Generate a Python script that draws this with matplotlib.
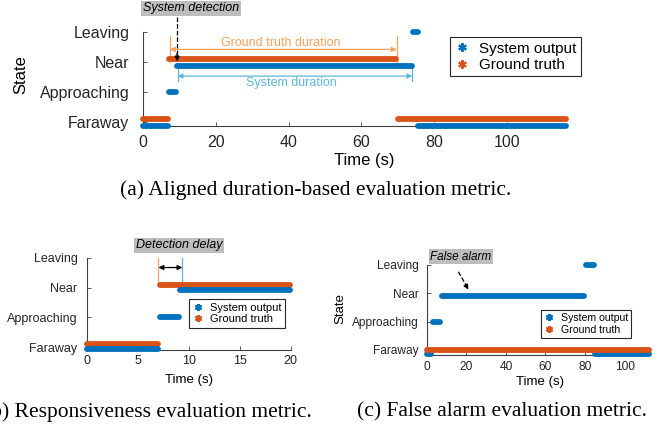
import matplotlib
matplotlib.use("Agg")
from matplotlib import pyplot as plt
from matplotlib.lines import Line2D

# state levels on the y axis
state_names = ["Faraway", "Approaching", "Near", "Leaving"]

# (a) aligned duration-based metric: segments (s)
a_sys_start = [0, 7.2, 9.2, 74.1, 75.7]
a_sys_end = [6.7, 9.0, 73.9, 75.5, 116.2]
a_sys_state = [1, 2, 3, 4, 1]
a_gt_start = [0, 7.1, 70.0]
a_gt_end = [6.7, 69.5, 116.2]
a_gt_state = [1, 3, 1]

# (b) responsiveness metric
b_sys_start = [0, 7.1, 9.1]
b_sys_end = [7.0, 9.05, 19.9]
b_sys_state = [1, 2, 3]
b_gt_start = [0, 7.1]
b_gt_end = [7.0, 19.9]
b_gt_state = [1, 3]

# (c) false alarm metric
c_sys_start = [0, 3.0, 7.6, 80.4, 85.2]
c_sys_end = [2.1, 6.8, 79.6, 84.6, 112.5]
c_sys_state = [1, 2, 3, 4, 1]
c_gt_start = [0]
c_gt_end = [112.5]
c_gt_state = [1]

BLUE = "#0072BD"
ORANGE = "#D95319"
LIGHT_ORANGE = "#F5A35A"
CYAN = "#5BB8D8"
AXIS = "#404040"
SANS = "Liberation Sans"
SERIF = "Liberation Serif"

W, H = 665, 429


def px(x, y):
    return x / W, 1 - y / H


def make_axes(fig, left, right, top, bottom):
    l, t = px(left, top)
    r, b = px(right, bottom)
    return fig.add_axes([l, b, r - l, t - b])


def draw_segments(ax, starts, ends, states, color, shift, lw):
    for t0, t1, s in zip(starts, ends, states):
        y = s + shift.get(s, 0.0)
        ax.plot([t0, t1], [y, y], color=color, lw=lw, solid_capstyle="round",
                clip_on=False, zorder=3)


def style_axes(ax, xlim, ylim, xticks, tick_fs, xpad, ypad):
    ax.set_xlim(*xlim)
    ax.set_ylim(*ylim)
    ax.set_xticks(xticks)
    ax.set_yticks([1, 2, 3, 4])
    ax.set_yticklabels(state_names)
    for side in ["top", "right"]:
        ax.spines[side].set_visible(False)
    for side in ["left", "bottom"]:
        ax.spines[side].set_color(AXIS)
        ax.spines[side].set_linewidth(0.8)
    ax.tick_params(direction="in", length=3, width=0.6, color=AXIS,
                   labelcolor="#262626", labelsize=tick_fs)
    ax.tick_params(axis="x", pad=xpad)
    ax.tick_params(axis="y", pad=ypad)
    for lab in ax.get_xticklabels() + ax.get_yticklabels():
        lab.set_family(SANS)
    ax.patch.set_alpha(0)


def add_legend(ax, fig, x, y, fs, ms):
    handles = [
        Line2D([], [], color=BLUE, marker=(6, 2, 0), ls="none", ms=ms, mew=1.6),
        Line2D([], [], color=ORANGE, marker=(6, 2, 0), ls="none", ms=ms, mew=1.6),
    ]
    leg = ax.legend(handles, ["System output", "Ground truth"],
                    loc="upper left", bbox_to_anchor=px(x, y),
                    bbox_transform=fig.transFigure, borderaxespad=0,
                    frameon=True, fancybox=False, framealpha=1,
                    edgecolor="#262626", handlelength=1.0, handletextpad=0.6,
                    borderpad=0.3, labelspacing=0.15,
                    prop={"family": SANS, "size": fs})
    leg.get_frame().set_linewidth(0.8)
    leg.set_zorder(5)


def double_arrow(ax, x0, x1, y, color, style="<|-|>"):
    ax.annotate("", xy=(x0, y), xytext=(x1, y),
                arrowprops=dict(arrowstyle=style, color=color, lw=0.9,
                                mutation_scale=7, shrinkA=0, shrinkB=0))


def gray_label(ax, x, y, text, fs):
    ax.text(x, y, text, ha="left", va="center", fontsize=fs, style="italic",
            family=SANS, clip_on=False,
            bbox=dict(facecolor="#BDBDBD", edgecolor="none", pad=1.2))


fig = plt.figure(figsize=(W / 100, H / 100), dpi=100)

# ---------------- (a) ----------------
ax_a = make_axes(fig, 143.3, 566.8, 32.3, 125.6)
draw_segments(ax_a, a_gt_start, a_gt_end, a_gt_state, ORANGE, {1: 0.1, 3: 0.1}, 4.2)
draw_segments(ax_a, a_sys_start, a_sys_end, a_sys_state, BLUE, {1: -0.11, 3: -0.11}, 4.2)
style_axes(ax_a, (0, 116.5), (0.89, 4), [0, 20, 40, 60, 80, 100], 11.5, 7, 10)

# annotations
gray_label(ax_a, -0.1, 4.8, "System detection", 9)
ax_a.plot([9.3, 9.3], [4.52, 3.25], color="black", lw=0.9, ls="--", clip_on=False)
ax_a.annotate("", xy=(9.3, 3.03), xytext=(9.3, 3.3),
              arrowprops=dict(arrowstyle="-|>", color="black", lw=0.9,
                              mutation_scale=7, shrinkA=0, shrinkB=0))
for xv in [7.35, 69.7]:
    ax_a.plot([xv, xv], [3.02, 3.88], color=LIGHT_ORANGE, lw=0.9)
double_arrow(ax_a, 7.35, 69.7, 3.43, LIGHT_ORANGE)
ax_a.text(37.8, 3.66, "Ground truth duration", color=LIGHT_ORANGE, fontsize=9,
          ha="center", va="center", family=SANS)
for xv in [9.45, 74.0]:
    ax_a.plot([xv, xv], [2.38, 2.93], color=CYAN, lw=0.9)
double_arrow(ax_a, 9.45, 74.0, 2.54, CYAN)
ax_a.text(40.8, 2.31, "System duration", color=CYAN, fontsize=9,
          ha="center", va="center", family=SANS)
add_legend(ax_a, fig, 450, 37, 11, 6)

fig.text(*px(364, 161), "Time (s)", ha="center", va="center", fontsize=12, family=SANS)
fig.text(*px(20.5, 75), "State", ha="center", va="center", rotation=90,
         fontsize=12, family=SANS)
fig.text(*px(316, 190), "(a) Aligned duration-based evaluation metric.",
         ha="center", va="center", fontsize=15.5, family=SERIF)

# ---------------- (b) ----------------
ax_b = make_axes(fig, 87.3, 290.7, 257.7, 349.5)
draw_segments(ax_b, b_gt_start, b_gt_end, b_gt_state, ORANGE, {1: 0.12, 3: 0.1}, 4.2)
draw_segments(ax_b, b_sys_start, b_sys_end, b_sys_state, BLUE, {1: -0.06, 3: -0.1}, 4.2)
style_axes(ax_b, (0, 20), (0.92, 4), [0, 5, 10, 15, 20], 9, 4.3, 7)

ax_b.plot([7.0, 7.0], [3.14, 3.98], color=LIGHT_ORANGE, lw=0.9)
ax_b.plot([9.35, 9.35], [2.86, 3.98], color=CYAN, lw=0.9)
double_arrow(ax_b, 7.0, 9.35, 3.67, "black")
gray_label(ax_b, 4.75, 4.41, "Detection delay", 9)
add_legend(ax_b, fig, 189.3, 299.3, 8, 5)

fig.text(*px(189, 380), "Time (s)", ha="center", va="center", fontsize=9.5, family=SANS)
fig.text(*px(-3, 303), "State", ha="center", va="center", rotation=90,
         fontsize=9.5, family=SANS)
fig.text(*px(312, 412), "(b) Responsiveness evaluation metric.",
         ha="right", va="center", fontsize=15.5, family=SERIF)

# ---------------- (c) ----------------
ax_c = make_axes(fig, 426.7, 650.4, 265, 354.7)
draw_segments(ax_c, c_sys_start, c_sys_end, c_sys_state, BLUE, {1: -0.15, 3: -0.1}, 4.2)
draw_segments(ax_c, c_gt_start, c_gt_end, c_gt_state, ORANGE, {}, 4.2)
style_axes(ax_c, (0, 113), (0.83, 4), [0, 20, 40, 60, 80, 100], 8.6, 4.8, 5.7)

ax_c.plot([16, 20.2], [3.76, 3.25], color="black", lw=0.9, ls="--")
ax_c.annotate("", xy=(21, 3.13), xytext=(20.0, 3.26),
              arrowprops=dict(arrowstyle="-|>", color="black", lw=0.9,
                              mutation_scale=7, shrinkA=0, shrinkB=0))
gray_label(ax_c, 1.9, 4.30, "False alarm", 8.5)
add_legend(ax_c, fig, 540.7, 310, 7.6, 5)

fig.text(*px(540, 382), "Time (s)", ha="center", va="center", fontsize=9.5, family=SANS)
fig.text(*px(340, 308), "State", ha="center", va="center", rotation=90,
         fontsize=9.5, family=SANS)
fig.text(*px(502, 412), "(c) False alarm evaluation metric.",
         ha="center", va="center", fontsize=15.5, family=SERIF)

fig.savefig("out.png", dpi=100)
